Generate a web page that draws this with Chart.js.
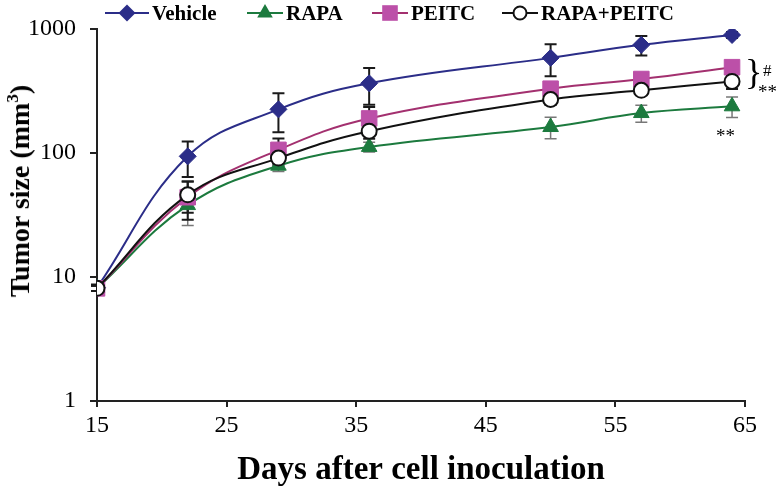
<!DOCTYPE html>
<html><head><meta charset="utf-8">
<script src="https://cdn.jsdelivr.net/npm/chart.js@4/dist/chart.umd.min.js"></script>
<style>
html,body{margin:0;padding:0;background:#fff;}
#wrap{position:relative;width:779px;height:491px;overflow:hidden;}
#c{position:absolute;left:0;top:0;}
.leg{position:absolute;top:1px;height:24px;display:flex;align-items:center;font:bold 21px "Liberation Serif";color:#000;white-space:nowrap;}
.leg svg{margin-right:3px;}
.ann{position:absolute;font-family:"Liberation Serif";color:#000;line-height:1;white-space:nowrap;}
#ytitle{position:absolute;left:20px;top:191px;transform:translate(-50%,-50%) rotate(-90deg);font:bold 28px "Liberation Serif";white-space:nowrap;color:#000;}
</style></head><body>
<div id="wrap">
<canvas id="c" width="779" height="491"></canvas>
<div id="ytitle">Tumor size (mm<sup style="font-size:17px;vertical-align:11px;line-height:0">3</sup>)</div>
<div class="ann" style="left:745px;top:54px;font-size:36px;">}</div>
<div class="ann" style="left:763px;top:62px;font-size:17px;">#</div>
<div class="ann" style="left:758px;top:82px;font-size:19px;">**</div>
<div class="ann" style="left:716px;top:126px;font-size:19px;">**</div>
</div>
<script>
// ---- data ----
const days = [15, 22, 29, 36, 50, 57, 64];
const seriesNames = ['Vehicle', 'RAPA', 'PEITC', 'RAPA+PEITC'];
const vehicle    = [8.2, 94, 225, 365, 585, 745, 895];
const vehicleErr = [0.5, 30, 78, 120, 170, 135, 50];
const rapa       = [8.1, 38, 79, 112, 162, 210, 238];
const rapaErr    = [0.4, 12, 8, 10, 32, 33, 45];
const peitc      = [8.1, 44, 106, 190, 330, 395, 492];
const peitcErr   = [0.4, 15, 25, 45, 30, 30, 40];
const combo      = [8.1, 46, 91, 150, 270, 320, 378];
const comboErr   = [0.4, 13, 12, 20, 25, 25, 50];
const xTickValues = [15, 25, 35, 45, 55, 65];
const yTickValues = [1, 10, 100, 1000];

const SERIF = '"Liberation Serif", "Times New Roman", serif';

function pts(vals){ return days.map((d,i)=>({x:d, y:vals[i]})); }

const datasets = [
  {label:seriesNames[0], data:pts(vehicle), errors:vehicleErr, errorColor:'#1a1a1a', errorWidth:2,
   borderColor:'#2B2D88', backgroundColor:'#2B2D88', pointStyle:'rectRot', pointRadius:8.5,
   pointBorderColor:'#2B2D88', pointBackgroundColor:'#2B2D88', order:3},
  {label:seriesNames[1], data:pts(rapa), errors:rapaErr, errorColor:'#777', errorWidth:1.5,
   borderColor:'#1C7A3E', backgroundColor:'#1C7A3E', pointStyle:'triangle', pointRadius:9,
   pointBorderColor:'#1C7A3E', pointBackgroundColor:'#1C7A3E', order:2},
  {label:seriesNames[2], data:pts(peitc), errors:peitcErr, errorColor:'#1a1a1a', errorWidth:2,
   borderColor:'#A3306F', backgroundColor:'#BC50A8', pointStyle:'rect', pointRadius:11,
   pointBorderColor:'#BC50A8', pointBackgroundColor:'#BC50A8', order:1},
  {label:seriesNames[3], data:pts(combo), errors:comboErr, errorColor:'#1a1a1a', errorWidth:2,
   borderColor:'#111', backgroundColor:'#fff', pointStyle:'circle', pointRadius:7.5,
   pointBorderColor:'#111', pointBackgroundColor:'#fff', pointBorderWidth:2, order:0}
];
datasets.forEach(d=>{ d.borderWidth=2; d.tension=0.4; d.fill=false; if(!d.pointBorderWidth) d.pointBorderWidth=1; });

const errorBarPlugin = {
  id:'errbars',
  beforeDatasetsDraw(chart){
    const {ctx} = chart; const xs = chart.scales.x, ys = chart.scales.y;
    chart.data.datasets.forEach(ds=>{
      ctx.save();
      ctx.strokeStyle = ds.errorColor; ctx.lineWidth = ds.errorWidth;
      ds.data.forEach((p,j)=>{
        const e = ds.errors[j];
        const px = xs.getPixelForValue(p.x);
        const top = ys.getPixelForValue(p.y + e);
        const bot = ys.getPixelForValue(Math.max(p.y - e, 0.01));
        const cw = 6;
        ctx.beginPath();
        ctx.moveTo(px, top); ctx.lineTo(px, bot);
        ctx.moveTo(px-cw, top); ctx.lineTo(px+cw, top);
        ctx.moveTo(px-cw, bot); ctx.lineTo(px+cw, bot);
        ctx.stroke();
      });
      ctx.restore();
    });
  }
};

const chart = new Chart(document.getElementById('c'), {
  type:'line',
  data:{datasets},
  options:{
    responsive:false, animation:false,
    layout:{padding:{top:29, right:34, left:0, bottom:0}},
    plugins:{legend:{display:false}, tooltip:{enabled:false}},
    scales:{
      x:{type:'linear', min:15, max:65,
        afterBuildTicks:s=>{ s.ticks = xTickValues.map(v=>({value:v})); },
        afterFit:s=>{ s.height = 90; },
        ticks:{font:{family:SERIF, size:24}, color:'#000', padding:4, maxRotation:0},
        grid:{drawOnChartArea:false, tickLength:6, color:'#222', lineWidth:2},
        border:{color:'#222', width:2},
        title:{display:true, text:'Days after cell inoculation', color:'#000',
          font:{family:SERIF, size:33, weight:'bold'}, padding:{top:0, bottom:1}}
      },
      y:{type:'logarithmic', min:1, max:1000,
        afterBuildTicks:s=>{ s.ticks = yTickValues.map(v=>({value:v})); },
        afterFit:s=>{ s.width = 97; },
        ticks:{font:{family:SERIF, size:24}, color:'#000', padding:14, callback:v=>String(v)},
        grid:{drawOnChartArea:false, tickLength:7, color:'#222', lineWidth:2},
        border:{color:'#222', width:2}
      }
    }
  },
  plugins:[errorBarPlugin]
});

// ---- HTML legend built from datasets ----
const legLeft = [105, 247, 372, 502];
const legLineW = [44, 36, 36, 36];
const wrap = document.getElementById('wrap');
datasets.forEach((ds,i)=>{
  const div = document.createElement('div');
  div.className='leg'; div.style.left = legLeft[i]+'px';
  const W=legLineW[i], H=22, cx=W/2, cy=H/2;
  let m='';
  if(ds.pointStyle==='rectRot'){ const r=8.5; m=`<polygon points="${cx},${cy-r} ${cx+r},${cy} ${cx},${cy+r} ${cx-r},${cy}" fill="${ds.pointBackgroundColor}"/>`; }
  else if(ds.pointStyle==='triangle'){ const r=9; m=`<polygon points="${cx},${cy-r} ${cx+r*0.866},${cy+r/2} ${cx-r*0.866},${cy+r/2}" fill="${ds.pointBackgroundColor}"/>`; }
  else if(ds.pointStyle==='rect'){ const s=7.8; m=`<rect x="${cx-s}" y="${cy-s}" width="${2*s}" height="${2*s}" fill="${ds.pointBackgroundColor}"/>`; }
  else { m=`<circle cx="${cx}" cy="${cy}" r="6.5" fill="#fff" stroke="${ds.pointBorderColor}" stroke-width="2"/>`; }
  div.innerHTML = `<svg width="${W}" height="${H}"><line x1="0" y1="${cy}" x2="${W}" y2="${cy}" stroke="${ds.borderColor}" stroke-width="2"/>${m}</svg><span>${ds.label}</span>`;
  wrap.appendChild(div);
});
</script>
</body></html>
